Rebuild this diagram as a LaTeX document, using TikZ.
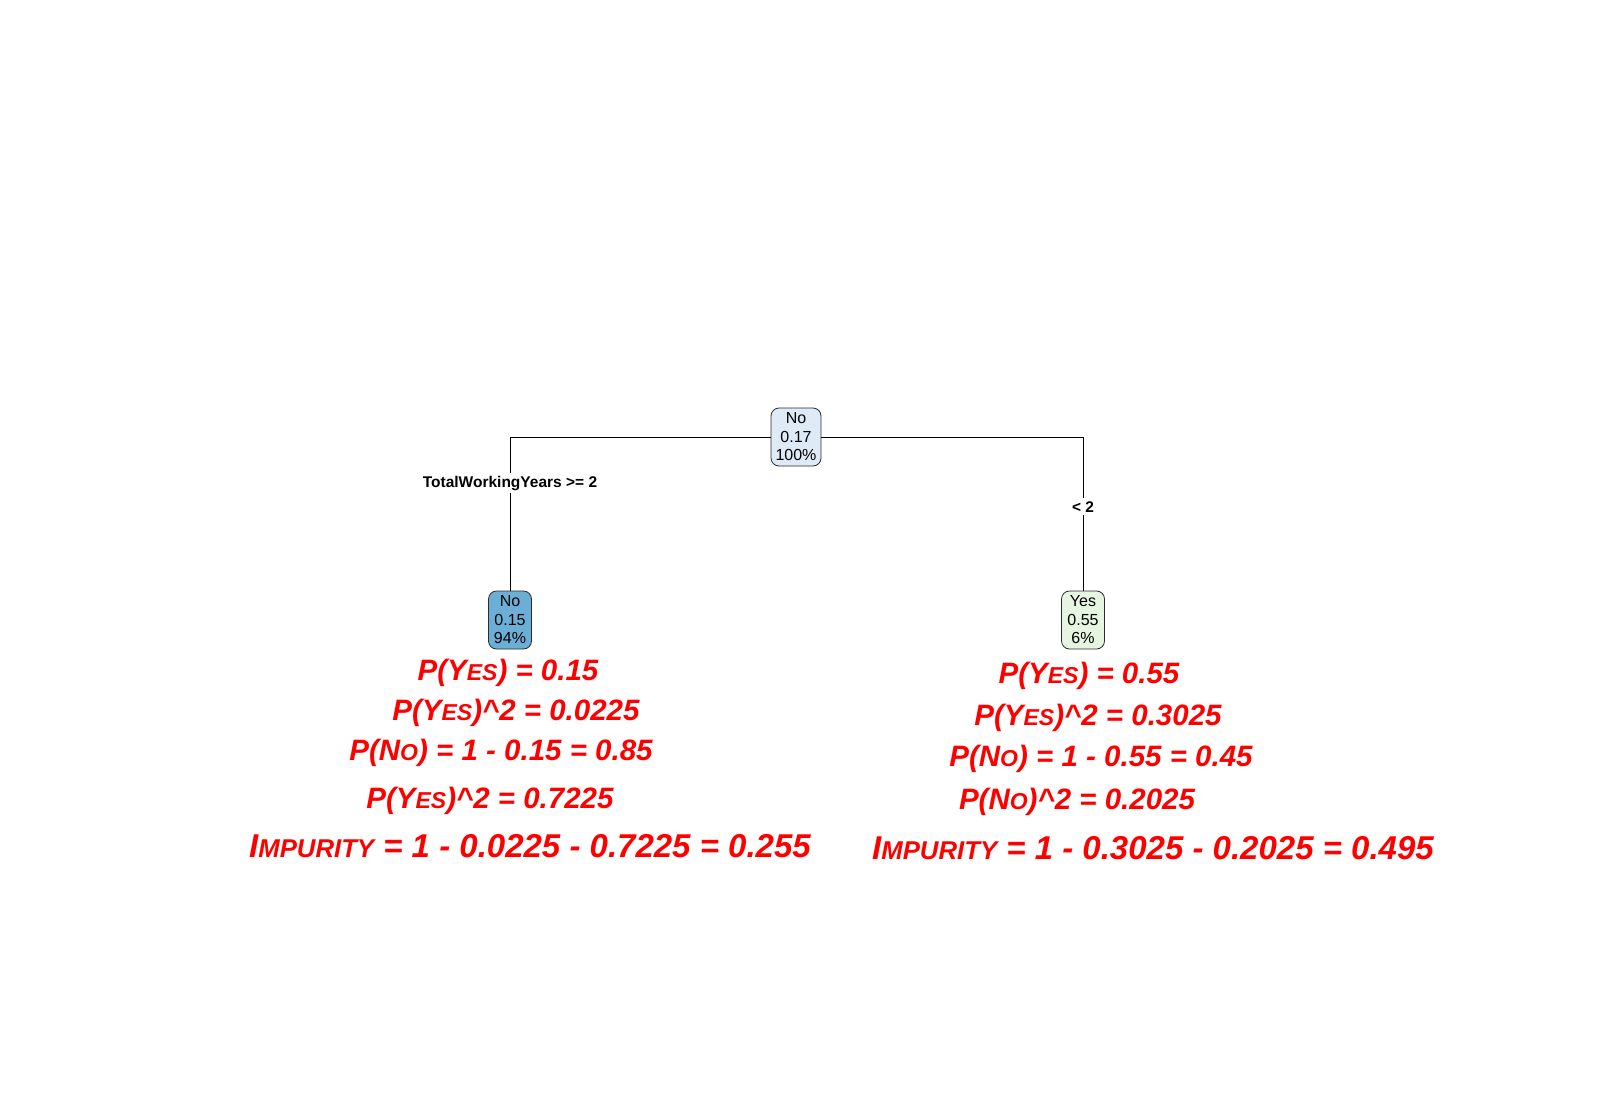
\documentclass[tikz,border=0pt]{standalone}
\usepackage{fontspec}
\setmainfont{Liberation Sans}
\usepackage{xcolor}
\usepackage{tikz}

\definecolor{rootblue}{HTML}{DEEBF7}
\definecolor{leafblue}{HTML}{6BAED6}
\definecolor{leafgreen}{HTML}{E5F5E0}
\definecolor{nodeedge}{HTML}{2B2B2B}

\newcommand\capsm[1]{\scalebox{0.78}{#1}}

\tikzset{
  treenode/.style={rectangle, rounded corners=8pt, draw=nodeedge, line width=0.8pt, align=center,
    minimum width=43pt, minimum height=58pt, inner sep=2pt, font=\fontsize{16}{18.5}\selectfont},
  splitlabel/.style={fill=white, inner sep=3pt, font=\fontsize{15.5}{18}\selectfont\bfseries},
  calc/.style={text=red, font=\fontsize{29.5}{34}\selectfont\bfseries\itshape},
  calcwide/.style={calc, font=\fontsize{33}{38}\selectfont\bfseries\itshape}
}

\begin{document}
\begin{tikzpicture}[x=1pt, y=-1pt]
\useasboundingbox (0,0) rectangle (1620,1100);

\node (root) [treenode, fill=rootblue, minimum width=50pt] at (796,437) {No\\0.17\\100\%};
\node (left) [treenode, fill=leafblue] at (510,620) {No\\0.15\\94\%};
\node (right) [treenode, fill=leafgreen] at (1083,620) {Yes\\0.55\\6\%};

\draw[line width=0.8pt] (root.west) -| node[splitlabel, pos=0.65] {TotalWorkingYears >= 2} (left.north);
\draw[line width=0.8pt] (root.east) -| node[splitlabel, pos=0.727] {< 2} (right.north);

% left leaf
\node (pyesL) [calc] at (508,673) {P(Y\capsm{ES}) = 0.15};
\node (pyessqL) [calc] at (516,713) {P(Y\capsm{ES})\^{}2 = 0.0225};
\node (pnoL) [calc] at (501,753) {P(N\capsm{O}) = 1 - 0.15 = 0.85};
\node (pnosqL) [calc] at (490,801) {P(Y\capsm{ES})\^{}2 = 0.7225};
\node (impL) [calcwide] at (530,846) {I\capsm{MPURITY} = 1 - 0.0225 - 0.7225 = 0.255};

% right leaf
\node (pyesR) [calc] at (1089,676) {P(Y\capsm{ES}) = 0.55};
\node (pyessqR) [calc] at (1098,718) {P(Y\capsm{ES})\^{}2 = 0.3025};
\node (pnoR) [calc] at (1101,759) {P(N\capsm{O}) = 1 - 0.55 = 0.45};
\node (pnosqR) [calc] at (1077,802) {P(N\capsm{O})\^{}2 = 0.2025};
\node (impR) [calcwide] at (1153,848) {I\capsm{MPURITY} = 1 - 0.3025 - 0.2025 = 0.495};
\end{tikzpicture}
\end{document}
